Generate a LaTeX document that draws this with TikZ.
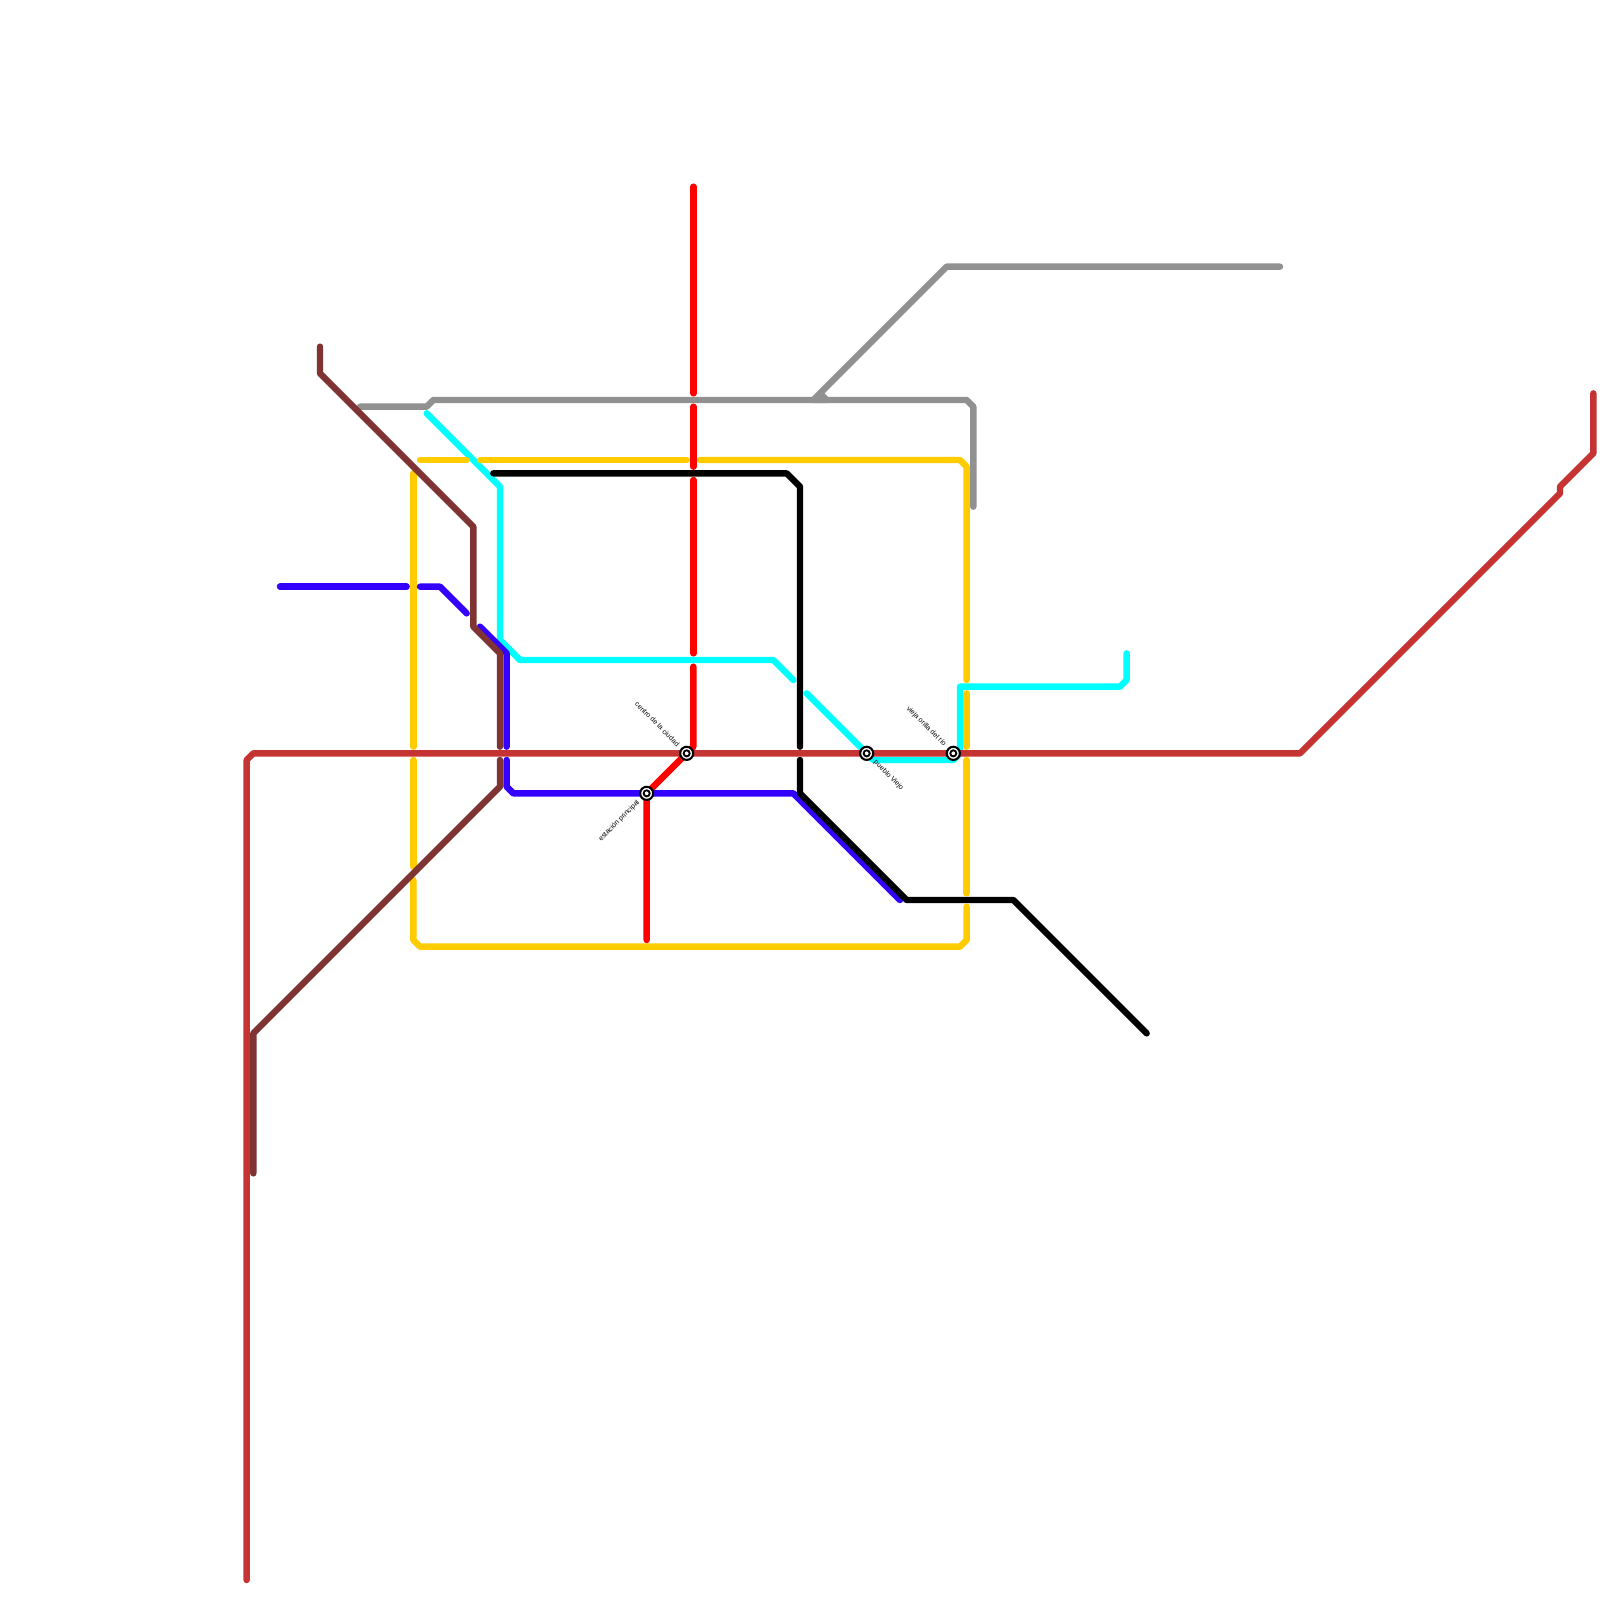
\documentclass[tikz,border=0pt]{standalone}
\usepackage{fontspec}
\setmainfont{Liberation Sans}
\usetikzlibrary{calc}
\definecolor{linemain}{HTML}{C63333}
\definecolor{linebrown}{HTML}{7F3333}
\definecolor{linegray}{HTML}{919191}
\definecolor{lineblue}{HTML}{3300FF}
\definecolor{linecyan}{HTML}{00FFFF}
\definecolor{lineyellow}{HTML}{FFCC00}
\definecolor{linered}{HTML}{FF0000}
\tikzset{
  metro/.style={draw=#1, line width=2.75pt, line cap=round, line join=round},
  station/.style={
    shape=circle,
    draw=black,
    fill=white,
    line width=0.9pt,
    inner sep=0pt,
    minimum size=5.6pt,
  },
  stationcore/.style={
    shape=circle,
    draw=black,
    fill=white,
    line width=0.8pt,
    inner sep=0pt,
    minimum size=2.6pt,
  },
  stationname/.style={font=\fontsize{3}{3.6}\selectfont, text=black, inner sep=0pt},
}
\begin{document}
\begin{tikzpicture}[x=0.1cm,y=-0.1cm]
  \fill[white] (0,0) rectangle (240,240);
  \useasboundingbox (0,0) rectangle (240,240);

  % cyan
  \draw[metro=linecyan] (64,62) -- (75,73) -- (75,96) -- (78,99) -- (116,99) -- (119,102);
  \draw[metro=linecyan] (121,104) -- (130,113) -- (131,114) -- (143,114) -- (144,113)
    -- (144,103) -- (168,103) -- (169,102) -- (169,98);

  % yellow
  \draw[metro=lineyellow] (63,69) -- (70,69);
  \draw[metro=lineyellow] (72,69) -- (103,69);
  \draw[metro=lineyellow] (105,69) -- (144,69) -- (145,70) -- (145,102);
  \draw[metro=lineyellow] (145,104) -- (145,112);
  \draw[metro=lineyellow] (145,114) -- (145,134);
  \draw[metro=lineyellow] (145,136) -- (145,141) -- (144,142) -- (63,142) -- (62,141) -- (62,132);
  \draw[metro=lineyellow] (62,130) -- (62,114);
  \draw[metro=lineyellow] (62,112) -- (62,71);

  % blue
  \draw[metro=lineblue] (42,88) -- (61,88);
  \draw[metro=lineblue] (63,88) -- (66,88) -- (70,92);
  \draw[metro=lineblue] (72,94) -- (76,98) -- (76,112);
  \draw[metro=lineblue] (76,114) -- (76,118) -- (77,119) -- (119,119) -- (135,135);

  % gray
  \draw[metro=linegray] (54,61) -- (64,61) -- (65,60) -- (145,60) -- (146,61) -- (146,76);
  \draw[metro=linegray] (192,40) -- (142,40) -- (122,60) -- (124,60) -- (123,59);

  % black
  \draw[metro=black] (74,71) -- (118,71) -- (120,73) -- (120,112);
  \draw[metro=black] (120,114) -- (120,119) -- (136,135) -- (152,135) -- (172,155);

  % red
  \foreach \a/\b in {28/59, 61/70, 72/98} {
    \draw[metro=linered] (104,\a) -- (104,\b);
  }
  \draw[metro=linered] (104,100) -- (104,112) -- (103,113) -- (97,119) -- (97,141);

  % brown
  \draw[metro=linebrown] (48,52) -- (48,56) -- (71,79) -- (71,94) -- (75,98) -- (75,112);
  \draw[metro=linebrown] (75,114) -- (75,118) -- (38,155) -- (38,176);

  % main line
  \draw[metro=linemain] (37,237) -- (37,114) -- (38,113) -- (195,113) -- (234,74)
    -- (234,73) -- (239,68) -- (239,59);

  % --- stations ---
  \foreach \name/\pos in {centro/{103,113}, estacion/{97,119}, pueblo/{130,113}, orilla/{143,113}} {
    \node[station] (\name) at (\pos) {};
    \node[stationcore] (\name core) at (\pos) {};
  }
  \node[stationname, rotate=-45, anchor=east] (centroname) at ($(centro)+(-1.2,-1.2)$) {centro de la ciudad};
  \node[stationname, rotate=45, anchor=east] (estacionname) at ($(estacion)+(-1.2,1.2)$) {estación principal};
  \node[stationname, rotate=-45, anchor=west] (pueblonname) at ($(pueblo)+(1.2,1.2)$) {pueblo Viejo};
  \node[stationname, rotate=-45, anchor=east] (orillaname) at ($(orilla)+(-1.2,-1.2)$) {vieja orilla del río};
\end{tikzpicture}
\end{document}
